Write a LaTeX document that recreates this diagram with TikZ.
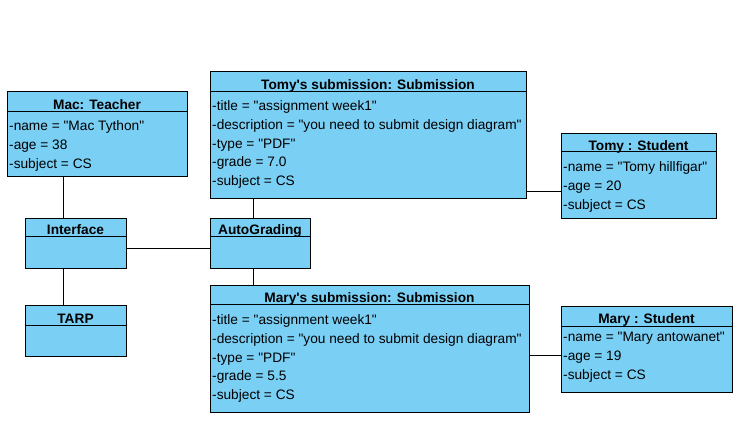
\documentclass[tikz,border=0pt]{standalone}
\usepackage{fontspec}
\setmainfont{Liberation Sans}[Ligatures=TeXOff]
\definecolor{umlfill}{RGB}{122,207,245}
\tikzset{
  umlbox/.style={draw=black, fill=umlfill, line width=1pt, inner sep=0pt, outer sep=0pt, anchor=north west},
  hdr/.style={inner sep=0pt, anchor=base, yshift=-1.5pt, font=\fontsize{13.7}{15}\selectfont\bfseries},
  attr/.style={inner sep=0pt, anchor=base west, yshift=-1.2pt, font=\fontsize{13.7}{15}\selectfont},
  link/.style={draw=black, line width=1pt},
  sep/.style={draw=black, line width=1pt}
}
\begin{document}
\begin{tikzpicture}[x=1pt,y=-1pt]
\useasboundingbox (0,0) rectangle (752,435);
% boxes
\node[umlbox, minimum width=180pt, minimum height=85pt] (mac) at (7,92) {};
\node[umlbox, minimum width=316pt, minimum height=127pt] (tomysub) at (210,72) {};
\node[umlbox, minimum width=155pt, minimum height=85pt] (tomystu) at (561,134) {};
\node[umlbox, minimum width=101pt, minimum height=50pt] (iface) at (25,219) {};
\node[umlbox, minimum width=100pt, minimum height=50pt] (auto) at (210,219) {};
\node[umlbox, minimum width=101pt, minimum height=51pt] (tarp) at (25,306) {};
\node[umlbox, minimum width=319pt, minimum height=126pt] (marysub) at (210,286) {};
\node[umlbox, minimum width=171pt, minimum height=85pt] (marystu) at (561,307) {};
% header separators
\draw[sep] ([yshift=-20pt]mac.north west) -- ([yshift=-20pt]mac.north east);
\draw[sep] ([yshift=-20pt]tomysub.north west) -- ([yshift=-20pt]tomysub.north east);
\draw[sep] ([yshift=-18pt]tomystu.north west) -- ([yshift=-18pt]tomystu.north east);
\draw[sep] ([yshift=-18pt]iface.north west) -- ([yshift=-18pt]iface.north east);
\draw[sep] ([yshift=-18pt]auto.north west) -- ([yshift=-18pt]auto.north east);
\draw[sep] ([yshift=-20pt]tarp.north west) -- ([yshift=-20pt]tarp.north east);
\draw[sep] ([yshift=-19pt]marysub.north west) -- ([yshift=-19pt]marysub.north east);
\draw[sep] ([yshift=-20pt]marystu.north west) -- ([yshift=-20pt]marystu.north east);
% headers
\node[hdr] (mac-h) at (97,108) {Mac: Teacher};
\node[hdr] (tomysub-h) at (368,88) {Tomy's submission: Submission};
\node[hdr] (tomystu-h) at (638.5,149) {Tomy : Student};
\node[hdr] (iface-h) at (75.5,233) {Interface};
\node[hdr] (auto-h) at (260,233) {AutoGrading};
\node[hdr] (tarp-h) at (75.5,322) {TARP};
\node[hdr] (marysub-h) at (369.5,301) {Mary's submission: Submission};
\node[hdr] (marystu-h) at (646.5,322) {Mary : Student};
% attributes
\node[attr] (mac-1) at (9,129) {-name = "Mac Tython"};
\node[attr] (mac-2) at (9,148) {-age = 38};
\node[attr] (mac-3) at (9,167) {-subject = CS};
\node[attr] (tomysub-1) at (212,109) {-title = "assignment week1"};
\node[attr] (tomysub-2) at (212,128) {-description = "you need to submit design diagram"};
\node[attr] (tomysub-3) at (212,147) {-type = "PDF"};
\node[attr] (tomysub-4) at (212,165) {-grade = 7.0};
\node[attr] (tomysub-5) at (212,184) {-subject = CS};
\node[attr] (tomystu-1) at (563,170) {-name = "Tomy hillfigar"};
\node[attr] (tomystu-2) at (563,189) {-age = 20};
\node[attr] (tomystu-3) at (563,208) {-subject = CS};
\node[attr] (marysub-1) at (212,323) {-title = "assignment week1"};
\node[attr] (marysub-2) at (212,342) {-description = "you need to submit design diagram"};
\node[attr] (marysub-3) at (212,361) {-type = "PDF"};
\node[attr] (marysub-4) at (212,379) {-grade = 5.5};
\node[attr] (marysub-5) at (212,398) {-subject = CS};
\node[attr] (marystu-1) at (563,340) {-name = "Mary antowanet"};
\node[attr] (marystu-2) at (563,359) {-age = 19};
\node[attr] (marystu-3) at (563,378) {-subject = CS};
% connectors
\draw[link] ([xshift=56pt]mac.south west) -- ([xshift=38pt]iface.north west);
\draw[link] ([xshift=38pt]iface.south west) -- ([xshift=38pt]tarp.north west);
\draw[link] ([yshift=-5pt]iface.east) -- ([yshift=-5pt]auto.west);
\draw[link] ([xshift=43pt]tomysub.south west) -- ([xshift=43pt]auto.north west);
\draw[link] ([xshift=43pt]auto.south west) -- ([xshift=43pt]marysub.north west);
\draw[link] ([yshift=7pt]tomysub.south east) -- ([yshift=27pt]tomystu.south west);
\draw[link] ([yshift=56pt]marysub.south east) -- ([yshift=36pt]marystu.south west);
\end{tikzpicture}
\end{document}
